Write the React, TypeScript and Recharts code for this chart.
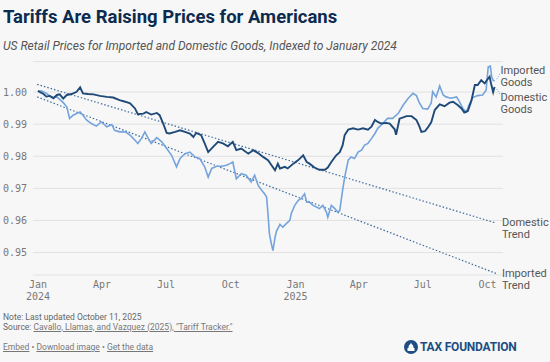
import React from 'react'
import { LineChart, Line, XAxis, YAxis, CartesianGrid } from 'recharts'

// days since 1 Jan 2024
const domesticDays = [0,3,8,12,17,22,27,31,36,41,48,55,60,64,71,79,88,98,107,116,124,131,138,142,150,154,161,169,173,178,183,187,195,202,209,216,221,225,232,237,242,249,256,263,270,277,282,289,299,306,313,320,327,332,337,341,344,351,355,363,370,377,382,386,393,400,408,412,417,424,429,433,436,441,448,455,462,469,474,479,483,488,495,500,507,509,514,524,531,538,542,545,550,554,559,564,571,578,585,590,597,602,606,611,616,621,625,630,635,638,642,644,647,649]
const domesticIndex = [1.0004,1.0000,0.9994,0.9986,0.9988,0.9981,0.9991,0.9993,0.9980,0.9991,0.9994,1.0001,1.0015,0.9996,0.9994,0.9993,0.9988,0.9985,0.9983,0.9975,0.9970,0.9965,0.9949,0.9931,0.9933,0.9938,0.9930,0.9935,0.9928,0.9902,0.9873,0.9871,0.9876,0.9881,0.9876,0.9871,0.9860,0.9873,0.9866,0.9840,0.9813,0.9829,0.9845,0.9840,0.9831,0.9845,0.9819,0.9824,0.9808,0.9819,0.9810,0.9798,0.9788,0.9772,0.9756,0.9777,0.9762,0.9767,0.9762,0.9777,0.9788,0.9803,0.9782,0.9777,0.9765,0.9758,0.9758,0.9765,0.9782,0.9803,0.9813,0.9834,0.9866,0.9883,0.9887,0.9883,0.9887,0.9883,0.9892,0.9913,0.9907,0.9902,0.9904,0.9902,0.9884,0.9867,0.9917,0.9925,0.9925,0.9913,0.9894,0.9876,0.9878,0.9889,0.9906,0.9944,0.9962,0.9956,0.9967,0.9970,0.9959,0.9949,0.9936,0.9941,0.9972,1.0022,1.0022,1.0037,1.0027,1.0037,1.0048,1.0027,1.0000,1.0016]

const importedDays = [0,5,12,17,22,27,31,36,41,45,50,55,60,64,69,76,83,90,98,105,109,116,124,131,138,142,147,152,157,161,169,176,183,190,197,202,209,216,223,230,237,242,247,254,261,268,273,277,282,289,296,303,308,313,318,322,325,327,329,332,334,337,339,344,348,353,358,360,365,370,374,379,382,386,391,396,400,405,410,412,417,422,426,429,431,433,436,441,445,450,455,460,464,469,474,479,483,490,497,504,512,519,526,533,538,542,547,554,559,561,566,571,576,580,587,595,599,604,609,613,618,625,632,637,640,643,645,647,649]
const importedIndex = [1.0001,1.0004,0.9996,0.9988,0.9983,0.9985,0.9977,0.9967,0.9954,0.9918,0.9928,0.9933,0.9938,0.9928,0.9913,0.9902,0.9894,0.9907,0.9892,0.9899,0.9881,0.9876,0.9876,0.9866,0.9850,0.9840,0.9855,0.9876,0.9855,0.9840,0.9858,0.9845,0.9824,0.9803,0.9767,0.9793,0.9808,0.9813,0.9798,0.9793,0.9767,0.9735,0.9762,0.9769,0.9769,0.9772,0.9777,0.9782,0.9730,0.9746,0.9741,0.9720,0.9741,0.9709,0.9694,0.9683,0.9673,0.9621,0.9558,0.9525,0.9506,0.9547,0.9566,0.9588,0.9579,0.9590,0.9600,0.9621,0.9647,0.9663,0.9668,0.9683,0.9657,0.9657,0.9647,0.9642,0.9637,0.9647,0.9626,0.9610,0.9647,0.9637,0.9626,0.9631,0.9663,0.9694,0.9735,0.9788,0.9798,0.9793,0.9813,0.9819,0.9834,0.9840,0.9855,0.9871,0.9887,0.9902,0.9918,0.9918,0.9933,0.9959,0.9980,0.9996,0.9989,0.9967,0.9949,0.9947,0.9966,1.0001,0.9985,1.0019,0.9991,0.9985,0.9981,0.9985,0.9970,0.9949,0.9938,0.9962,0.9983,0.9989,0.9991,1.0006,1.0079,1.0081,1.0047,1.0037,1.0034]

const trendDays = [-1, 651]
const domesticTrend = [1.0024, 0.9592]
const importedTrend = [0.9985, 0.9435]

const tickDays = [0, 91, 182, 274, 366, 456, 547, 639]
const tickMonths = ['Jan', 'Apr', 'Jul', 'Oct', 'Jan', 'Apr', 'Jul', 'Oct']
const tickYears = ['2024', '', '', '', '2025', '', '', '']
const yTicks = [0.95, 0.96, 0.97, 0.98, 0.99, 1.0]

const toRows = (days, vals) => days.map((day, i) => ({ day, value: vals[i] }))
const domesticData = toRows(domesticDays, domesticIndex)
const importedData = toRows(importedDays, importedIndex)
const domesticTrendData = toRows(trendDays, domesticTrend)
const importedTrendData = toRows(trendDays, importedTrend)

const DARK = '#1f4a78'
const LIGHT = '#75a3dc'
const TREND = '#3d6a9c'
const mono = '"DejaVu Sans Mono", monospace'
const sans = 'Roboto, "Noto Sans", sans-serif'

const endLabel = (lastIndex, lines, dy, leader) => (props) => {
  if (props.index !== lastIndex) return null
  const { x, y } = props
  return (
    <g>
      {leader !== 0 && (
        <line x1={x + 2} y1={y + leader * 1} x2={x + 6} y2={y + leader * 4}
          stroke={LIGHT} strokeWidth={1} strokeDasharray="1 1.5" />
      )}
      <text x={x + 6} y={y + dy} fontFamily={sans} fontSize={11} fill="#555">
        {lines.map((l, i) => (
          <tspan key={i} x={x + 6} dy={i === 0 ? 0 : 12}>{l}</tspan>
        ))}
      </text>
    </g>
  )
}

const XTick = ({ x, y, index }) => (
  <g>
    <text x={x} y={y + 13} textAnchor="middle" fontFamily={mono} fontSize={10} fill="#777">
      {tickMonths[index]}
    </text>
    {tickYears[index] && (
      <text x={x} y={y + 25} textAnchor="middle" fontFamily={mono} fontSize={10} fill="#777">
        {tickYears[index]}
      </text>
    )}
  </g>
)

const linkStyle = { textDecoration: 'underline', color: '#777' }

export default function App() {
  return (
    <div style={{ position: 'absolute', left: 0, top: 0, width: 550, height: 362, background: '#f7f7f7', overflow: 'hidden', fontFamily: sans }}>
      <div style={{ position: 'absolute', left: 3, top: 6, fontSize: 18.5, fontWeight: 700, color: '#0d2b4e', whiteSpace: 'nowrap' }}>
        Tariffs Are Raising Prices for Americans
      </div>
      <div style={{ position: 'absolute', left: 3, top: 39, fontSize: 12, fontStyle: 'italic', color: '#555', whiteSpace: 'nowrap' }}>
        US Retail Prices for Imported and Domestic Goods, Indexed to January 2024
      </div>

      <div style={{ position: 'absolute', left: 0, top: 0 }}>
        <LineChart width={550} height={305} margin={{ top: 61.6, right: 47, bottom: 0, left: 3 }}>
          <CartesianGrid vertical={false} stroke="#e2e2e2" />
          <XAxis type="number" dataKey="day" domain={[-7, 661]} ticks={tickDays} allowDataOverflow
            axisLine={false} tickLine={false} tickSize={0} tickMargin={0} height={30}
            tick={<XTick />} interval={0} />
          <YAxis type="number" domain={[0.943, 1.0095]} ticks={yTicks} allowDataOverflow
            axisLine={false} tickLine={false} tickSize={0} tickMargin={6} width={30}
            tickFormatter={(v) => v.toFixed(2)}
            tick={{ fontFamily: mono, fontSize: 10, fill: '#777' }} />
          <Line data={domesticTrendData} dataKey="value" stroke={TREND} strokeWidth={1.2}
            strokeDasharray="1.5 2" dot={false} isAnimationActive={false}
            label={endLabel(1, ['Domestic', 'Trend'], 3, 0)} />
          <Line data={importedTrendData} dataKey="value" stroke={TREND} strokeWidth={1.2}
            strokeDasharray="1.5 2" dot={false} isAnimationActive={false}
            label={endLabel(1, ['Imported', 'Trend'], 4, 0)} />
          <Line data={importedData} dataKey="value" stroke={LIGHT} strokeWidth={1.6}
            dot={false} isAnimationActive={false}
            label={endLabel(importedData.length - 1, ['Imported', 'Goods'], -7, -2)} />
          <Line data={domesticData} dataKey="value" stroke={DARK} strokeWidth={1.9}
            dot={false} isAnimationActive={false}
            label={endLabel(domesticData.length - 1, ['Domestic', 'Goods'], 14, 2)} />
        </LineChart>
      </div>

      <div style={{ position: 'absolute', left: 3, top: 313, fontSize: 8.5, color: '#666', lineHeight: '9.5px', whiteSpace: 'nowrap' }}>
        <div>Note: Last updated October 11, 2025</div>
        <div>Source: <span style={linkStyle}>Cavallo, Llamas, and Vazquez (2025), "Tariff Tracker."</span></div>
      </div>
      <div style={{ position: 'absolute', left: 3, top: 342, fontSize: 8.5, color: '#777', whiteSpace: 'nowrap' }}>
        <span style={linkStyle}>Embed</span> • <span style={linkStyle}>Download image</span> • <span style={linkStyle}>Get the data</span>
      </div>
      <div style={{ position: 'absolute', left: 404, top: 340, display: 'flex', alignItems: 'center' }}>
        <svg width={14} height={14} viewBox="0 0 14 14">
          <circle cx={7} cy={7} r={7} fill="#1d4d82" />
          <path d="M7 2.5 L7.6 4 Q9.6 5 9.6 8 L10.5 8 L10.5 11 L3.5 11 L3.5 8 L4.4 8 Q4.4 5 6.4 4 Z" fill="#fff" />
        </svg>
        <span style={{ marginLeft: 2, fontSize: 12, fontWeight: 700, color: '#1d4d82', letterSpacing: -0.2 }}>TAX FOUNDATION</span>
      </div>
    </div>
  )
}
